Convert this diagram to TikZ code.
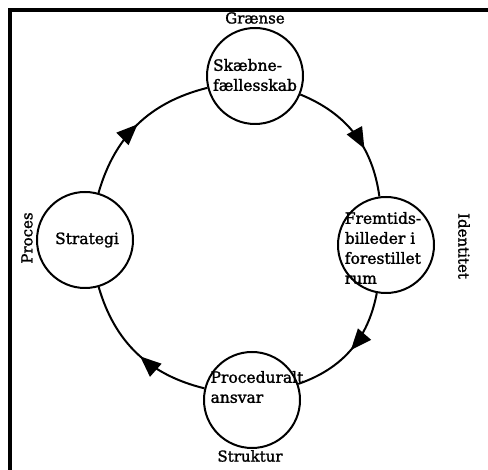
\documentclass[tikz,border=0pt]{standalone}
\usepackage{fontspec}
\setmainfont{DejaVu Serif}[FakeBold=1.5]
\usetikzlibrary{arrows.meta,decorations.markings}
\begin{document}
\begin{tikzpicture}[x=1pt,y=1pt,
  blob/.style={circle,draw,line width=2pt,minimum size=96pt,inner sep=0pt,fill=white},
  txt/.style={align=left,font=\fontsize{15.5}{20}\selectfont,inner sep=0pt},
  lbl/.style={font=\fontsize{15}{17}\selectfont,inner sep=0pt},
  flow/.style={line width=2pt,postaction={decorate},
    decoration={markings,mark=at position #1 with {\arrow{Triangle[length=21pt,width=17pt]}}}}
]
\useasboundingbox (0,0) rectangle (488,470);
\fill[white] (0,0) rectangle (488,470);
\draw[line width=4.5pt] (488,460) -- (10,460) -- (10,0);

\node[blob] (skab) at (255,394) {};
\node[blob] (strat) at (85,230) {};
\node[blob] (frem) at (386,225) {};
\node[blob] (proc) at (252,70) {};

\draw[flow=0.5] (strat) to[bend left=30] (skab);
\draw[flow=0.63] (skab) to[bend left=30] (frem);
\draw[flow=0.5] (frem) to[bend left=30] (proc);
\draw[flow=0.47] (proc) to[bend left=30] (strat);

\node[txt] (skabT) at (255,395) {Skæbne-\\fællesskab};
\node[txt] (stratT) at (87,230) {Strategi};
\node[txt] (fremT) at (383,222) {Fremtids-\\billeder i\\forestillet\\rum};
\node[txt] (procT) at (257,83) {Proceduralt\\ansvar};

\node[lbl] (graense) at (255,452) {Grænse};
\node[lbl] (struktur) at (250,14) {Struktur};
\node[lbl,rotate=90] (proces) at (27,232) {Proces};
\node[lbl,rotate=-90] (identitet) at (464,224) {Identitet};
\end{tikzpicture}
\end{document}
